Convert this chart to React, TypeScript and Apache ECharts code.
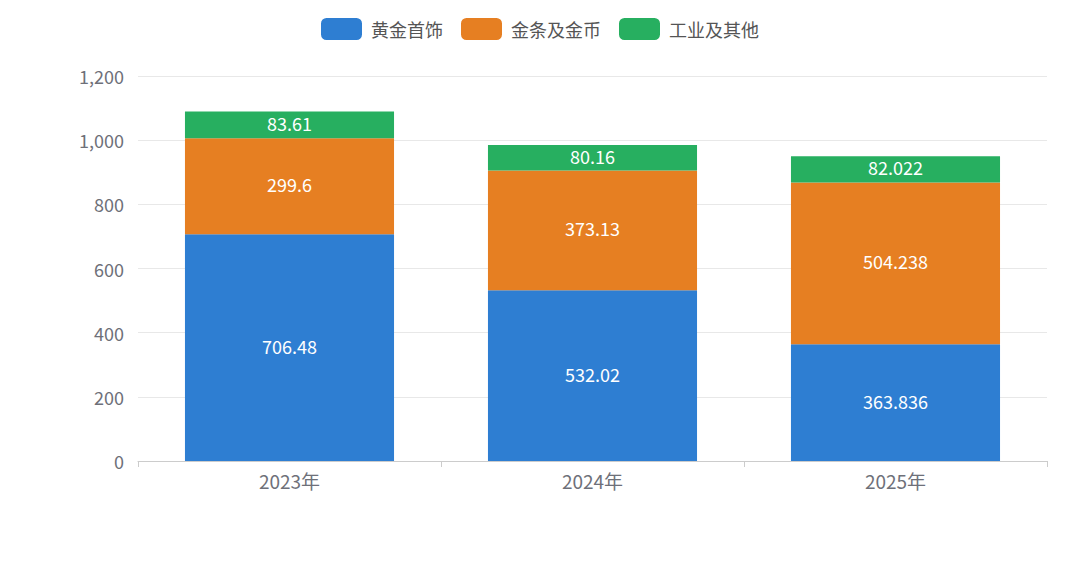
import React, { useEffect, useRef } from "react";
import * as echarts from "echarts";

const categories = ["2023年", "2024年", "2025年"];
const jewelry = [706.48, 532.02, 363.836];
const barsCoins = [299.6, 373.13, 504.238];
const industrial = [83.61, 80.16, 82.022];
const seriesNames = ["黄金首饰", "金条及金币", "工业及其他"];
const colors = ["#2E7ED2", "#E67F22", "#27AF60"];

const FONT = "'Noto Sans CJK SC', 'Noto Sans', sans-serif";

export default function App() {
  const ref = useRef<HTMLDivElement>(null);
  useEffect(() => {
    document.body.style.margin = "0";
    const chart = echarts.init(ref.current!, null, { renderer: "svg" });
    const label = {
      show: true,
      position: "inside",
      color: "#ffffff",
      fontSize: 18,
      fontFamily: FONT,
      offset: [0, -2],
    };
    const data = [jewelry, barsCoins, industrial];
    chart.setOption({
      animation: false,
      color: colors,
      textStyle: { fontFamily: FONT },
      legend: {
        top: 13,
        left: "center",
        itemWidth: 41,
        itemHeight: 22,
        itemGap: 18,
        icon: "roundRect",
        textStyle: { fontSize: 18, color: "#555", fontFamily: FONT, padding: [0, 0, 0, 4] },
        data: seriesNames,
      },
      grid: { left: 138, right: 33, top: 76, bottom: 100, containLabel: false },
      xAxis: {
        type: "category",
        data: categories,
        axisLine: { lineStyle: { color: "#ccc" } },
        axisTick: { show: true, length: 6, lineStyle: { color: "#ccc" } },
        axisLabel: { color: "#6e7079", fontSize: 19, margin: 10, fontFamily: FONT },
      },
      yAxis: {
        type: "value",
        min: 0,
        max: 1200,
        interval: 200,
        axisLabel: { color: "#6e7079", fontSize: 18, margin: 14, fontFamily: FONT },
        splitLine: { lineStyle: { color: "#e8e8e8" } },
      },
      series: seriesNames.map((name, i) => ({
        name,
        type: "bar",
        stack: "total",
        barWidth: "69%",
        data: data[i],
        label,
      })),
    });
    return () => chart.dispose();
  }, []);
  return <div ref={ref} style={{ width: 1080, height: 561 }} />;
}
